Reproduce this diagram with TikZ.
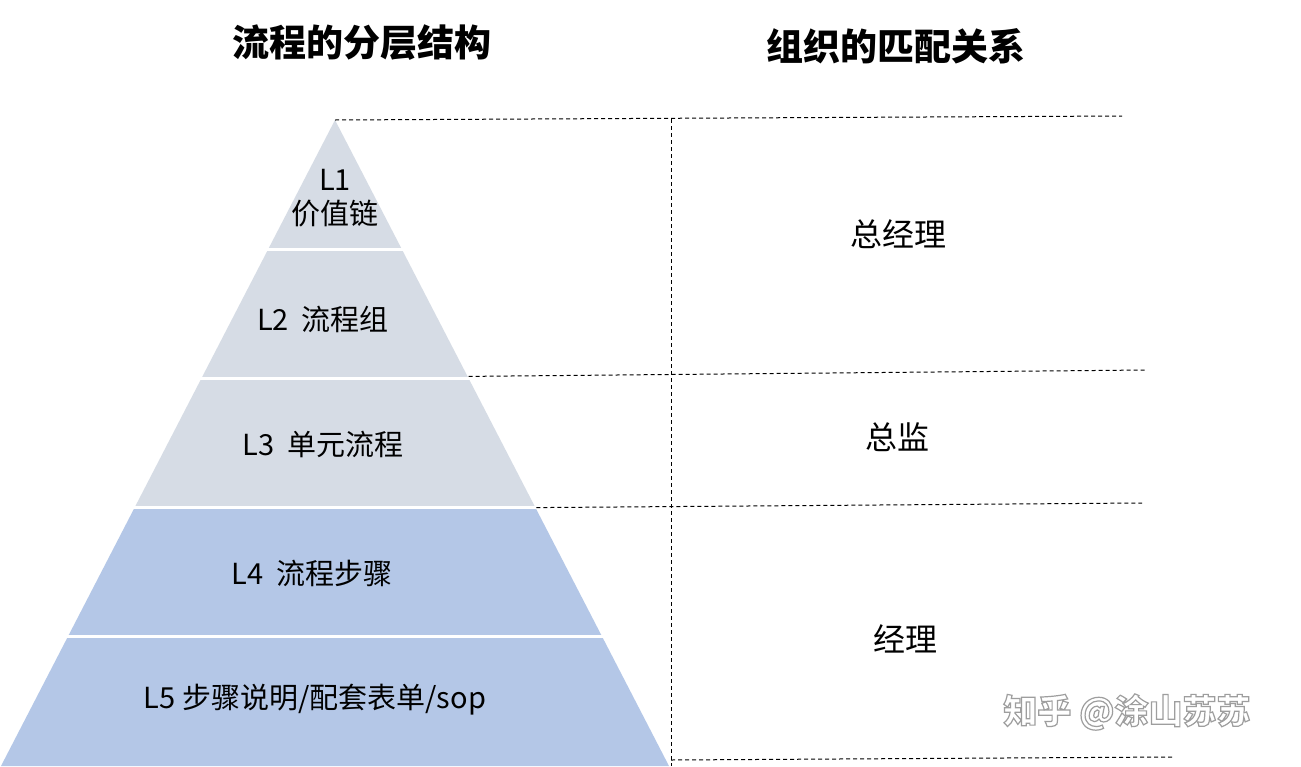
\documentclass[tikz,border=0pt]{standalone}
\usepackage{fontspec}
\newfontfamily\cjk{Noto Sans CJK SC}
\usetikzlibrary{calc}
\definecolor{upper}{HTML}{D6DCE5}
\definecolor{lower}{HTML}{B4C7E7}
\tikzset{
  layertxt/.style={font=\cjk\fontsize{29}{34}\selectfont, text=black, inner sep=0pt, align=center},
  roletxt/.style={font=\cjk\fontsize{32}{36}\selectfont, text=black, inner sep=0pt},
  titletxt/.style={font=\cjk\bfseries\fontsize{37}{42}\selectfont, text=black, inner sep=0pt},
  guide/.style={draw=black, line width=1pt, dash pattern=on 4pt off 3pt},
  sep/.style={draw=white, line width=3pt},
  wmtxt/.style={font=\cjk\bfseries\fontsize{34}{38}\selectfont, inner sep=0pt},
}
\begin{document}
\begin{tikzpicture}[x=1pt,y=-1pt]
\useasboundingbox (0,0) rectangle (1301,766);
\fill[white] (0,0) rectangle (1301,766);
% pyramid corners
\coordinate (A) at (335,120);
\coordinate (BL) at (1,766);
\coordinate (BR) at (669,766);
\foreach \i/\t in {1/0.2,2/0.4,3/0.6,4/0.8}{
  \coordinate (l\i) at ($(A)!\t!(BL)$);
  \coordinate (r\i) at ($(A)!\t!(BR)$);
}
% layers
\fill[upper] (A) -- (l1) -- (r1) -- cycle;
\fill[upper] (l1) -- (l2) -- (r2) -- (r1) -- cycle;
\fill[upper] (l2) -- (l3) -- (r3) -- (r2) -- cycle;
\fill[lower] (l3) -- (l4) -- (r4) -- (r3) -- cycle;
\fill[lower] (l4) -- (BL) -- (BR) -- (r4) -- cycle;
\foreach \i in {1,2,3,4}{ \draw[sep] ($(l\i)+(-3,0)$) -- ($(r\i)+(3,0)$); }
% guides
\coordinate (t1e) at (1122,116);
\coordinate (vt) at (671,119);
\coordinate (vb) at (671,766);
\coordinate (t2e) at (1147,370);
\coordinate (t3e) at (1142,503);
\coordinate (t4s) at (671,760);
\coordinate (t4e) at (1172,757);
\draw[guide] (A) -- (t1e);
\draw[guide] (vt) -- (vb);
\draw[guide] ($(r2)+(0,-2)$) -- (t2e);
\draw[guide] ($(r3)+(1,0)$) -- (t3e);
\draw[guide] (t4s) -- (t4e);
% titles
\node[titletxt] (title1) at (362,43) {流程的分层结构};
\node[titletxt] (title2) at (896,46) {组织的匹配关系};
% layer texts
\node[layertxt] (L1) at (335,198) {L1\\价值链};
\node[layertxt] (L2) at (323,319) {L2\ \ 流程组};
\node[layertxt] (L3) at (323,444) {L3\ \ 单元流程};
\node[layertxt] (L4) at (312,573) {L4\ \ 流程步骤};
\node[layertxt] (L5) at (315,700) {L5 步骤说明/配套表单/sop};
% roles
\node[roletxt] (gm) at (898,234) {总经理};
\node[roletxt] (dir) at (897,437) {总监};
\node[roletxt] (mgr) at (905,639) {经理};
% watermark: white face with grey outline
\node[wmtxt, text=white] (wm) at (1127,712) {\special{pdf:literal direct 2 Tr 1.2 w 0.62 G}知乎 @涂山苏苏\special{pdf:literal direct 0 Tr}};
\end{tikzpicture}
\end{document}
